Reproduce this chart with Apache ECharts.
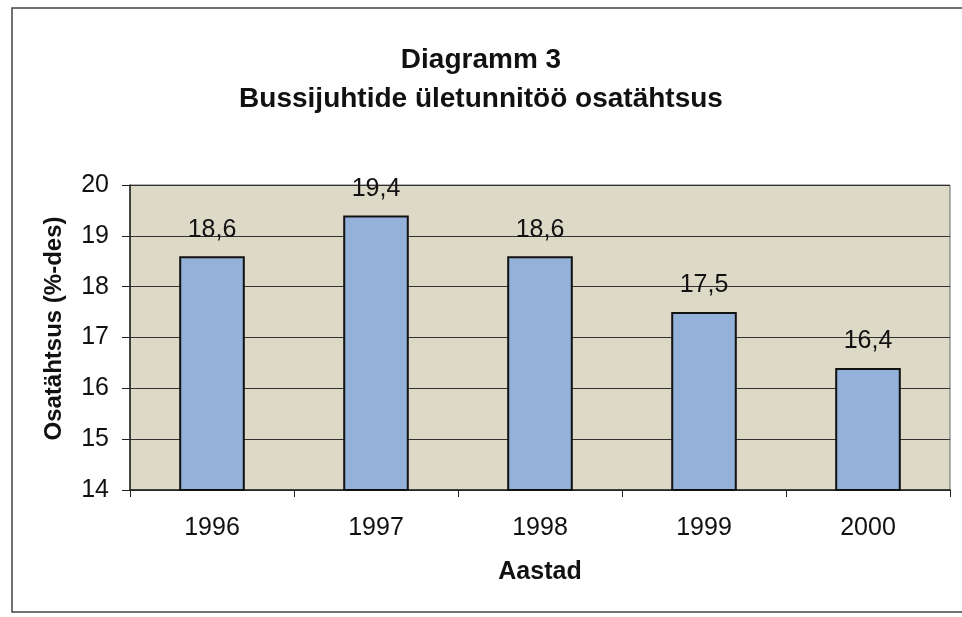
<!DOCTYPE html>
<html><head><meta charset="utf-8">
<script src="https://cdn.jsdelivr.net/npm/echarts@6/dist/echarts.min.js"></script>
<style>html,body{margin:0;padding:0;background:#fff}#c{width:962px;height:617px}</style>
</head><body><div id="c"></div>
<script>
const categories = ['1996','1997','1998','1999','2000'];
const values = [18.6, 19.4, 18.6, 17.5, 16.4];
const labels = ['18,6','19,4','18,6','17,5','16,4'];
const titleLines = ['Diagramm 3', 'Bussijuhtide ületunnitöö osatähtsus'];
const yName = 'Osatähtsus (%-des)';
const xName = 'Aastad';

const chart = echarts.init(document.getElementById('c'));
const font = 'Liberation Sans, Arial, sans-serif';
chart.setOption({
  backgroundColor: '#ffffff',
  graphic: [
    {type:'polyline', shape:{points:[[962,8],[12,8],[12,612],[962,612]]}, style:{fill:null,stroke:'#444',lineWidth:1.5}, z:-1}
  ],
  title: {
    text: titleLines.join('\n'), left: 'center', top: 36,
    textStyle: {fontFamily: font, fontSize: 28, fontWeight: 'bold', color: '#111', lineHeight: 39}
  },
  grid: {left: 130, right: 12, top: 185, bottom: 127, show: true, backgroundColor: '#dcd9c7', borderColor: '#666', borderWidth: 1},
  xAxis: {
    type: 'category', data: categories,
    name: xName, nameLocation: 'middle', nameGap: 70,
    nameTextStyle: {fontFamily: font, fontSize: 25, fontWeight: 'bold', color: '#111'},
    axisLine: {lineStyle: {color: '#222', width: 1.5}},
    axisTick: {show: true, length: 7, lineStyle: {color: '#222'}},
    axisLabel: {fontFamily: font, fontSize: 25, color: '#111', margin: 26}
  },
  yAxis: {
    type: 'value', min: 14, max: 20, interval: 1,
    name: yName, nameLocation: 'middle', nameGap: 64, nameRotate: 90,
    nameTextStyle: {fontFamily: font, fontSize: 24, fontWeight: 'bold', color: '#111', padding: [0, 0, 0, 18]},
    axisLine: {show: true, lineStyle: {color: '#222', width: 1.5}},
    axisTick: {show: true, length: 8, inside: false, lineStyle: {color: '#222'}},
    axisLabel: {fontFamily: font, fontSize: 25, color: '#111', margin: 21},
    splitLine: {lineStyle: {color: '#333', width: 1.2}}
  },
  series: [{
    type: 'bar', data: values, barWidth: '40%',
    itemStyle: {color: '#93b1d9', borderColor: '#111', borderWidth: 2},
    label: {show: true, position: 'top', distance: 14, fontFamily: font, fontSize: 25, color: '#111',
      formatter: p => labels[p.dataIndex]}
  }]
});
</script></body></html>
